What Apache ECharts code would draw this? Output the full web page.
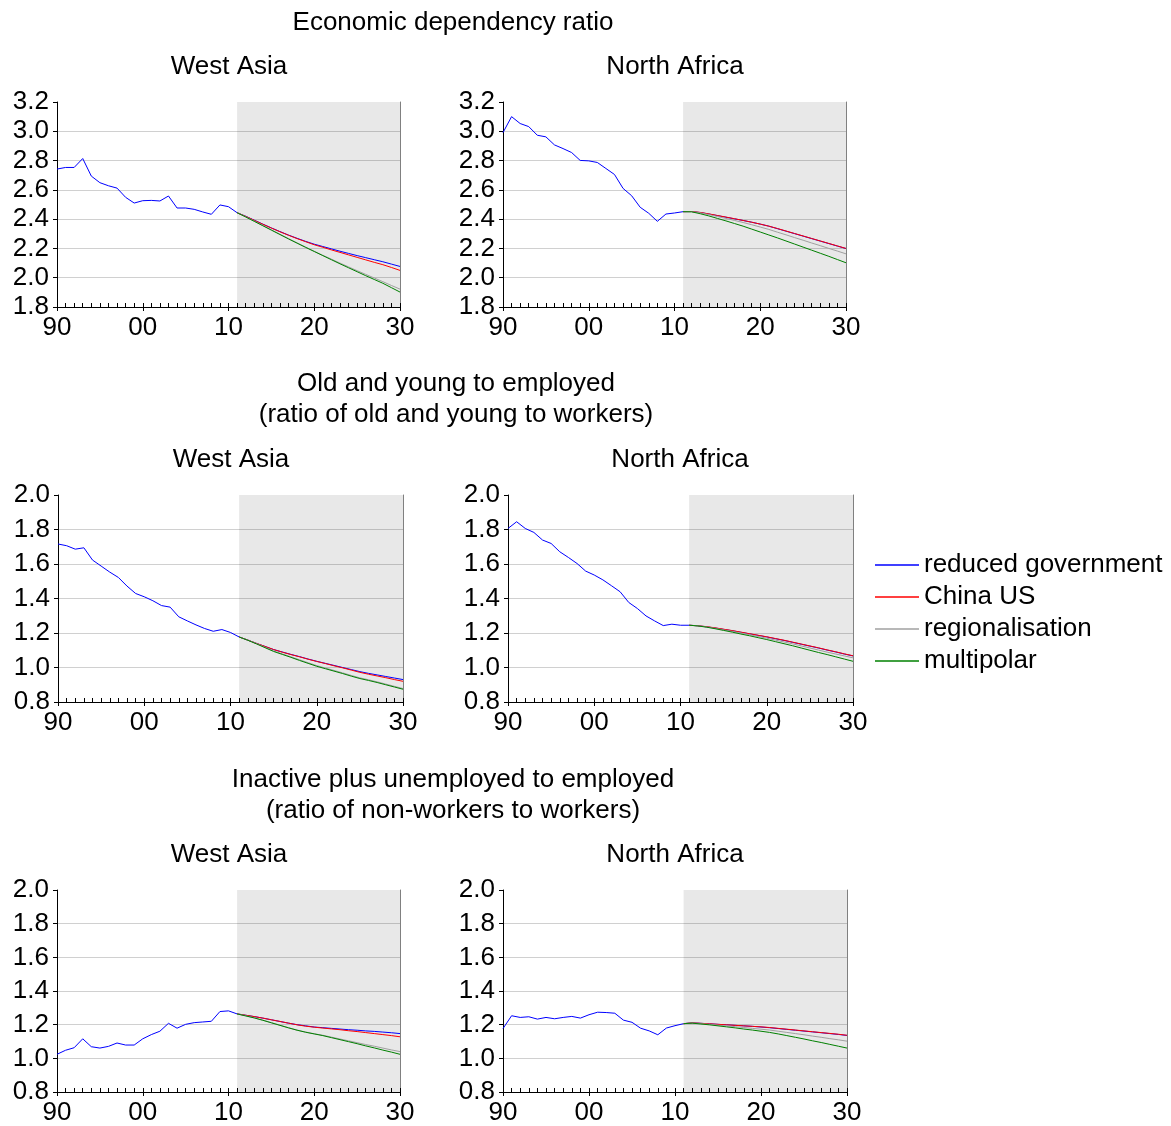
<!DOCTYPE html>
<html>
<head>
<meta charset="utf-8">
<script src="https://cdn.jsdelivr.net/npm/echarts@6/dist/echarts.min.js"></script>
<style>
  html, body { margin: 0; padding: 0; background: #fff; }
  #chart { width: 1171px; height: 1126px; }
</style>
</head>
<body>
<div id="chart"></div>
<script>
// Years: observed history and scenario projections
const histYears = [1990, 1991, 1992, 1993, 1994, 1995, 1996, 1997, 1998, 1999, 2000,
  2001, 2002, 2003, 2004, 2005, 2006, 2007, 2008, 2009, 2010];
const projYears = [2011, 2012, 2013, 2014, 2015, 2016, 2017, 2018, 2019, 2020,
  2021, 2022, 2023, 2024, 2025, 2026, 2027, 2028, 2029, 2030];

const scenarioNames = ['reduced government', 'China US', 'regionalisation', 'multipolar'];
const scenarioColors = ['#0000ff', '#ff0000', '#a0a0a0', '#008000'];

// Economic dependency ratio — West Asia
const waEdrHist = [2.742, 2.753, 2.753, 2.814, 2.694, 2.649, 2.628, 2.612, 2.549, 2.510, 2.526,
  2.528, 2.524, 2.558, 2.476, 2.476, 2.467, 2.449, 2.433, 2.497, 2.485];
const waEdrReduced = [2.444, 2.420, 2.393, 2.366, 2.340, 2.315, 2.291, 2.269, 2.248, 2.229,
  2.213, 2.197, 2.181, 2.166, 2.151, 2.137, 2.123, 2.109, 2.093, 2.077];
const waEdrChinaUS = [2.444, 2.419, 2.392, 2.365, 2.339, 2.314, 2.290, 2.267, 2.246, 2.225,
  2.208, 2.190, 2.173, 2.156, 2.139, 2.122, 2.105, 2.089, 2.070, 2.050];
const waEdrRegional = [2.444, 2.416, 2.387, 2.357, 2.327, 2.297, 2.267, 2.238, 2.209, 2.181,
  2.153, 2.127, 2.100, 2.074, 2.048, 2.023, 1.998, 1.973, 1.947, 1.922];
const waEdrMultipolar = [2.444, 2.415, 2.385, 2.355, 2.325, 2.295, 2.265, 2.236, 2.207, 2.179,
  2.151, 2.123, 2.095, 2.068, 2.041, 2.014, 1.988, 1.962, 1.932, 1.902];

// Economic dependency ratio — North Africa
const naEdrHist = [2.991, 3.100, 3.053, 3.032, 2.973, 2.962, 2.907, 2.882, 2.855, 2.801, 2.798,
  2.787, 2.746, 2.705, 2.610, 2.560, 2.481, 2.440, 2.385, 2.435, 2.442];
const naEdrReduced = [2.451, 2.452, 2.445, 2.435, 2.424, 2.413, 2.402, 2.391, 2.379, 2.366,
  2.352, 2.335, 2.318, 2.301, 2.284, 2.267, 2.250, 2.233, 2.216, 2.199];
const naEdrChinaUS = [2.451, 2.452, 2.446, 2.436, 2.425, 2.414, 2.403, 2.391, 2.379, 2.366,
  2.352, 2.336, 2.319, 2.302, 2.285, 2.268, 2.251, 2.234, 2.217, 2.200];
const naEdrRegional = [2.451, 2.451, 2.443, 2.431, 2.418, 2.405, 2.391, 2.377, 2.362, 2.346,
  2.330, 2.311, 2.293, 2.274, 2.256, 2.237, 2.219, 2.200, 2.182, 2.163];
const naEdrMultipolar = [2.451, 2.450, 2.437, 2.422, 2.405, 2.388, 2.370, 2.352, 2.332, 2.312,
  2.292, 2.272, 2.251, 2.230, 2.209, 2.188, 2.167, 2.146, 2.124, 2.102];

// Old and young to employed — West Asia
const waOyHist = [1.716, 1.706, 1.686, 1.694, 1.623, 1.588, 1.553, 1.522, 1.472, 1.429, 1.410,
  1.387, 1.359, 1.350, 1.294, 1.270, 1.247, 1.226, 1.210, 1.220, 1.203];
const waOyReduced = [1.177, 1.159, 1.140, 1.122, 1.104, 1.090, 1.076, 1.063, 1.049, 1.036,
  1.024, 1.012, 1.000, 0.988, 0.976, 0.966, 0.957, 0.948, 0.939, 0.930];
const waOyChinaUS = [1.177, 1.159, 1.140, 1.122, 1.104, 1.089, 1.075, 1.062, 1.048, 1.035,
  1.023, 1.010, 0.998, 0.985, 0.972, 0.961, 0.951, 0.941, 0.930, 0.920];
const waOyRegional = [1.177, 1.159, 1.139, 1.117, 1.096, 1.079, 1.062, 1.045, 1.028, 1.011,
  0.997, 0.983, 0.969, 0.954, 0.940, 0.929, 0.917, 0.904, 0.891, 0.878];
const waOyMultipolar = [1.177, 1.158, 1.137, 1.115, 1.093, 1.076, 1.059, 1.041, 1.024, 1.007,
  0.993, 0.979, 0.965, 0.950, 0.936, 0.925, 0.913, 0.900, 0.887, 0.874];

// Old and young to employed — North Africa
const naOyHist = [1.806, 1.845, 1.806, 1.783, 1.739, 1.719, 1.671, 1.638, 1.603, 1.559, 1.536,
  1.508, 1.474, 1.439, 1.377, 1.342, 1.299, 1.270, 1.243, 1.251, 1.245];
const naOyReduced = [1.245, 1.242, 1.236, 1.229, 1.221, 1.213, 1.204, 1.195, 1.186, 1.177,
  1.167, 1.157, 1.146, 1.135, 1.124, 1.113, 1.101, 1.090, 1.078, 1.067];
const naOyChinaUS = [1.245, 1.242, 1.237, 1.230, 1.222, 1.214, 1.205, 1.196, 1.187, 1.178,
  1.168, 1.158, 1.147, 1.136, 1.125, 1.114, 1.102, 1.091, 1.079, 1.068];
const naOyRegional = [1.245, 1.242, 1.235, 1.227, 1.218, 1.209, 1.200, 1.190, 1.180, 1.170,
  1.159, 1.148, 1.137, 1.125, 1.113, 1.101, 1.089, 1.078, 1.067, 1.056];
const naOyMultipolar = [1.245, 1.241, 1.234, 1.225, 1.215, 1.205, 1.194, 1.184, 1.173, 1.162,
  1.150, 1.138, 1.126, 1.113, 1.100, 1.087, 1.075, 1.062, 1.049, 1.036];

// Inactive plus unemployed to employed — West Asia
const waInHist = [1.024, 1.048, 1.063, 1.116, 1.069, 1.061, 1.071, 1.091, 1.079, 1.079, 1.116,
  1.141, 1.161, 1.208, 1.179, 1.202, 1.212, 1.216, 1.220, 1.278, 1.282];
const waInReduced = [1.264, 1.256, 1.248, 1.239, 1.229, 1.219, 1.209, 1.200, 1.193, 1.186,
  1.182, 1.178, 1.174, 1.170, 1.167, 1.163, 1.160, 1.156, 1.152, 1.147];
const waInChinaUS = [1.264, 1.256, 1.248, 1.239, 1.229, 1.219, 1.209, 1.199, 1.191, 1.185,
  1.180, 1.175, 1.170, 1.164, 1.159, 1.153, 1.147, 1.141, 1.135, 1.128];
const waInRegional = [1.264, 1.253, 1.241, 1.227, 1.212, 1.197, 1.182, 1.168, 1.156, 1.146,
  1.137, 1.126, 1.115, 1.104, 1.093, 1.082, 1.072, 1.061, 1.050, 1.040];
const waInMultipolar = [1.264, 1.252, 1.240, 1.226, 1.211, 1.196, 1.181, 1.167, 1.155, 1.145,
  1.135, 1.123, 1.111, 1.099, 1.087, 1.074, 1.062, 1.049, 1.037, 1.024];

// Inactive plus unemployed to employed — North Africa
const naInHist = [1.177, 1.253, 1.243, 1.247, 1.233, 1.243, 1.235, 1.243, 1.249, 1.239, 1.259,
  1.274, 1.272, 1.268, 1.227, 1.214, 1.179, 1.163, 1.140, 1.180, 1.194];
const naInReduced = [1.206, 1.211, 1.208, 1.205, 1.202, 1.199, 1.196, 1.193, 1.190, 1.186,
  1.182, 1.177, 1.172, 1.167, 1.162, 1.157, 1.152, 1.147, 1.142, 1.136];
const naInChinaUS = [1.206, 1.211, 1.208, 1.205, 1.202, 1.199, 1.196, 1.193, 1.190, 1.187,
  1.183, 1.178, 1.173, 1.168, 1.163, 1.158, 1.153, 1.148, 1.143, 1.137];
const naInRegional = [1.206, 1.210, 1.206, 1.202, 1.197, 1.193, 1.188, 1.183, 1.178, 1.173,
  1.168, 1.161, 1.154, 1.147, 1.140, 1.132, 1.125, 1.117, 1.110, 1.102];
const naInMultipolar = [1.206, 1.209, 1.204, 1.199, 1.193, 1.187, 1.181, 1.174, 1.168, 1.161,
  1.154, 1.145, 1.135, 1.125, 1.115, 1.104, 1.094, 1.083, 1.072, 1.061];

// Axis ranges
const edrRange = [1.8, 3.2];
const ratioRange = [0.8, 2.0];
const forecastStart = 2011;
const forecastEnd = 2030;

// Panel layout and the data each panel shows
const panels = [
  { box: { left: 57, top: 102, width: 343, height: 205 }, range: edrRange,
    hist: waEdrHist, proj: [waEdrReduced, waEdrChinaUS, waEdrRegional, waEdrMultipolar] },
  { box: { left: 503, top: 102, width: 343, height: 205 }, range: edrRange,
    hist: naEdrHist, proj: [naEdrReduced, naEdrChinaUS, naEdrRegional, naEdrMultipolar] },
  { box: { left: 58, top: 495, width: 345, height: 207 }, range: ratioRange,
    hist: waOyHist, proj: [waOyReduced, waOyChinaUS, waOyRegional, waOyMultipolar] },
  { box: { left: 508, top: 495, width: 345, height: 207 }, range: ratioRange,
    hist: naOyHist, proj: [naOyReduced, naOyChinaUS, naOyRegional, naOyMultipolar] },
  { box: { left: 57, top: 890, width: 343, height: 205 }, range: ratioRange,
    hist: waInHist, proj: [waInReduced, waInChinaUS, waInRegional, waInMultipolar] },
  { box: { left: 503, top: 890, width: 344, height: 205 }, range: ratioRange,
    hist: naInHist, proj: [naInReduced, naInChinaUS, naInRegional, naInMultipolar] }
];

const FONT = "'Liberation Sans', Arial, sans-serif";
const FS = 26;

const zip = (xs, ys) => xs.map((x, i) => [x, ys[i]]);

const grid = [], xAxis = [], yAxis = [], series = [];
panels.forEach((p, i) => {
  grid.push(Object.assign({ containLabel: false }, p.box));
  // main bottom axis: decade labels with outward ticks
  xAxis.push({
    gridIndex: i, type: 'value', min: 1990, max: 2030, interval: 10,
    axisLine: { lineStyle: { color: '#000', width: 1 } },
    axisTick: { length: 4, lineStyle: { color: '#000' } },
    axisLabel: { color: '#000', fontSize: FS, fontFamily: FONT, margin: 8,
      formatter: v => String(v % 100).padStart(2, '0') },
    splitLine: { show: false }
  });
  // yearly inward ticks
  xAxis.push({
    gridIndex: i, type: 'value', min: 1990, max: 2030, interval: 1, position: 'bottom',
    axisLine: { show: false },
    axisTick: { inside: true, length: 4, lineStyle: { color: '#000' } },
    axisLabel: { show: false },
    splitLine: { show: false }
  });
  yAxis.push({
    gridIndex: i, type: 'value', min: p.range[0], max: p.range[1], interval: 0.2,
    axisLine: { show: true, lineStyle: { color: '#000' } },
    axisTick: { show: true, length: 4, lineStyle: { color: '#000' } },
    axisLabel: { color: '#000', fontSize: FS, fontFamily: FONT, margin: 8,
      formatter: v => v.toFixed(1) },
    splitLine: { show: true, showMinLine: false, showMaxLine: false,
      lineStyle: { color: '#d0d0d0', width: 1 } }
  });
  // right frame edge
  yAxis.push({
    gridIndex: i, type: 'value', min: p.range[0], max: p.range[1], position: 'right',
    axisLine: { show: true, lineStyle: { color: '#808080' } },
    axisTick: { show: false }, axisLabel: { show: false }, splitLine: { show: false }
  });

  scenarioNames.forEach((name, k) => {
    const data = k === 0
      ? zip(histYears, p.hist).concat(zip(projYears, p.proj[k]))
      : zip(projYears, p.proj[k]);
    const s = {
      name, type: 'line', xAxisIndex: 2 * i, yAxisIndex: 2 * i, data,
      showSymbol: false, symbol: 'none', animation: false, silent: true,
      lineStyle: { color: scenarioColors[k], width: 1 },
      itemStyle: { color: scenarioColors[k] },
      z: 3 + k
    };
    if (k === 0) {
      s.markArea = {
        silent: true,
        itemStyle: { color: 'rgba(0,0,0,0.09)' },
        data: [[{ xAxis: forecastStart }, { xAxis: forecastEnd }]]
      };
    }
    series.push(s);
  });
});

const textItems = [
  ['Economic dependency ratio', 453, 23],
  ['West Asia', 229, 67], ['North Africa', 675, 67],
  ['Old and young to employed', 456, 384],
  ['(ratio of old and young to workers)', 456, 415],
  ['West Asia', 231, 460], ['North Africa', 680, 460],
  ['Inactive plus unemployed to employed', 453, 780],
  ['(ratio of non-workers to workers)', 453, 811],
  ['West Asia', 229, 855], ['North Africa', 675, 855]
];

const graphic = textItems.map(([text, x, y]) => ({
  type: 'text', x, y, silent: true,
  style: { text, fill: '#000', font: FS + 'px ' + FONT, textAlign: 'center', textVerticalAlign: 'middle' }
}));

const chart = echarts.init(document.getElementById('chart'), null, { renderer: 'canvas' });
chart.setOption({
  animation: false,
  backgroundColor: '#fff',
  grid, xAxis, yAxis, series, graphic,
  legend: {
    data: scenarioNames,
    orient: 'vertical', left: 870, top: 547,
    itemWidth: 44, itemHeight: 1.5, itemGap: 6, icon: 'rect',
    selectedMode: false,
    textStyle: { color: '#000', fontSize: FS, fontFamily: FONT, lineHeight: 26 }
  }
});
</script>
</body>
</html>
